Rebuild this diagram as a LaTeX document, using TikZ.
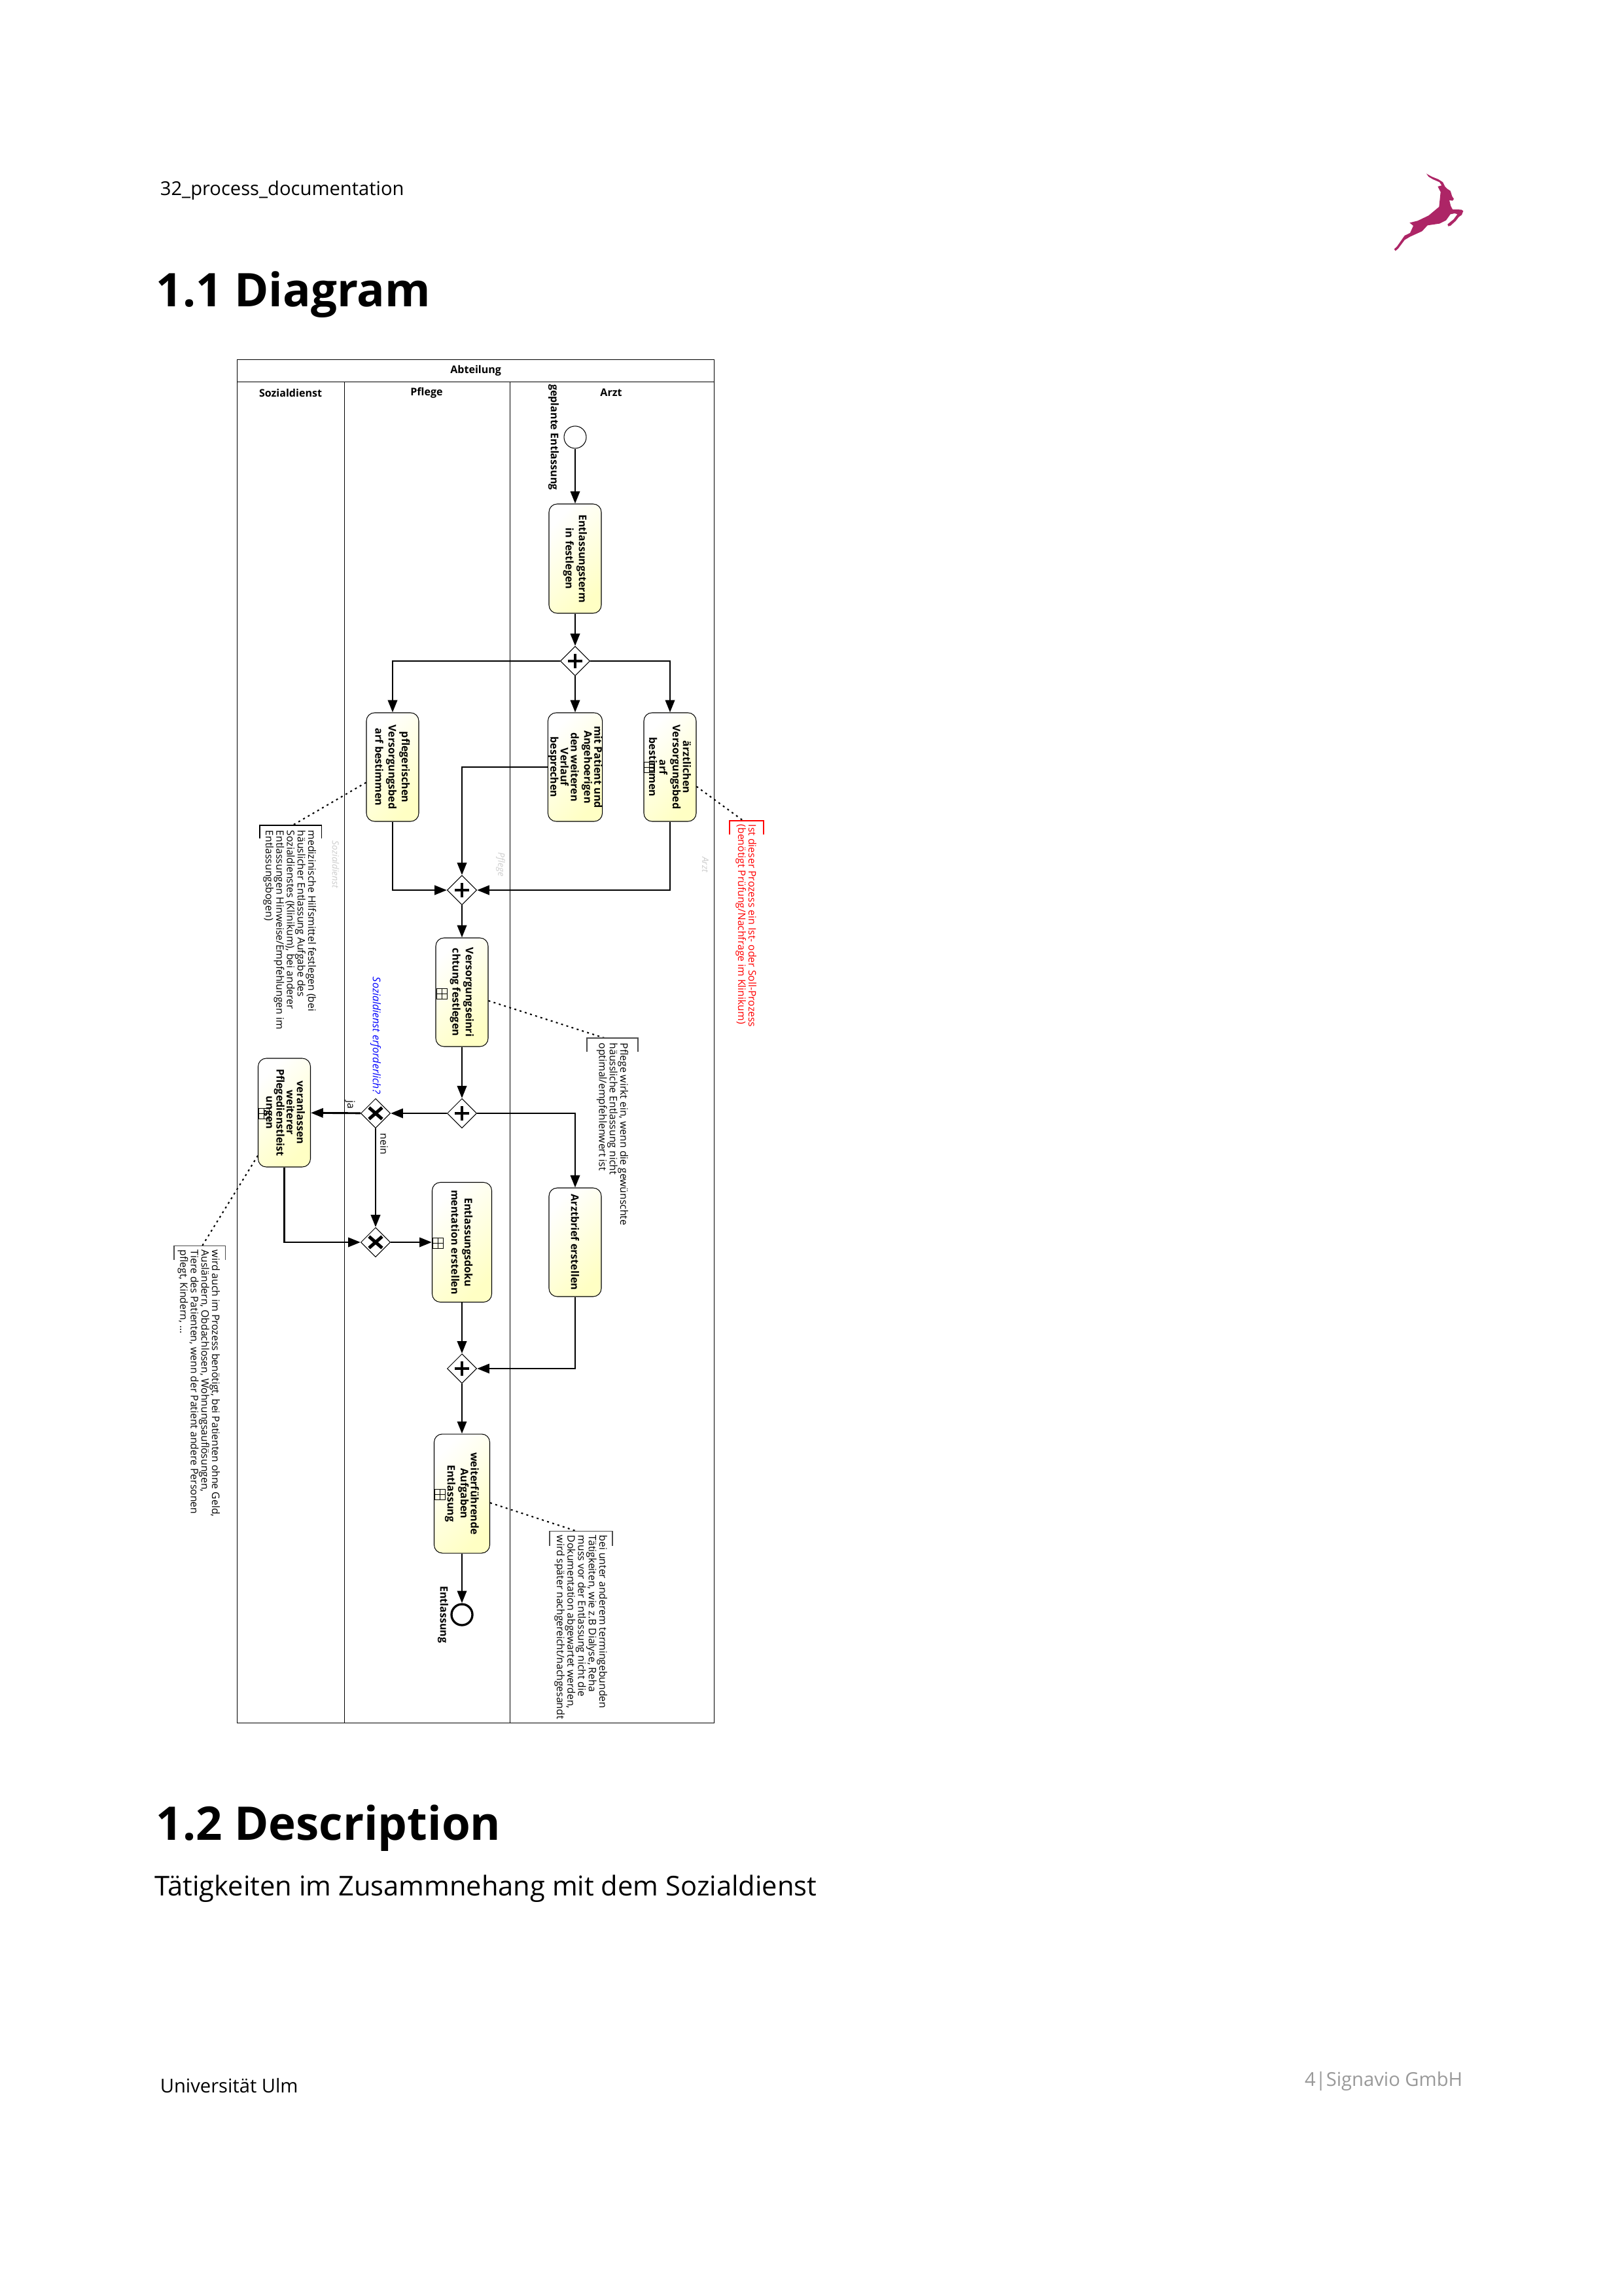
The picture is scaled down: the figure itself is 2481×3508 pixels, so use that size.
\documentclass[tikz,border=0pt]{standalone}
\usepackage{fontspec}
\setmainfont{Open Sans}
\usetikzlibrary{shapes.geometric, arrows.meta}
\def\px{0.24pt}
\definecolor{logocolor}{HTML}{AD2566}
\definecolor{taskyellow}{HTML}{FFFFC4}
\tikzstyle{lane} = [draw, line width=0.3pt, anchor=north west, minimum height=2049*\px]
\tikzstyle{lanetitle} = [font=\fontsize{3.85}{4}\selectfont\bfseries]
\tikzstyle{task} = [draw, rectangle, rounded corners=3pt, line width=0.25pt, align=center, rotate=-90, inner sep=0pt, minimum width=166*\px, minimum height=80*\px, font=\fontsize{3.85}{3.75}\selectfont\bfseries, top color=white, bottom color=taskyellow, shading angle=45]
\tikzstyle{gate} = [draw, diamond, fill=white, inner sep=0pt, line width=0.25pt, minimum width=45*\px, minimum height=45*\px]
\tikzstyle{plusgate} = [gate, path picture={\draw [line width=0.85pt] (path picture bounding box.center) +(-2.7pt,0) -- +(2.7pt,0) +(0,-2.7pt) -- +(0,2.7pt);}]
\tikzstyle{xorgate} = [gate, path picture={\draw [line width=1.2pt] (path picture bounding box.center) +(-2.4pt,-2.1pt) -- +(2.4pt,2.1pt) +(-2.4pt,2.1pt) -- +(2.4pt,-2.1pt);}]
\tikzstyle{subproc} = [draw, line width=0.2pt, minimum size=16*\px, inner sep=0pt, path picture={\draw [line width=0.15pt] (path picture bounding box.north) -- (path picture bounding box.south) (path picture bounding box.west) -- (path picture bounding box.east);}]
\tikzstyle{flow} = [-{Triangle[length=4.5pt,width=3.4pt]}, line width=0.7pt]
\tikzstyle{assoc} = [line width=0.5pt, dash pattern=on 0.7pt off 1.3pt]
\tikzstyle{note} = [rotate=-90, anchor=north west, inner sep=0pt, align=left, font=\fontsize{3.77}{3.9}\selectfont]
\tikzstyle{bracket} = [line width=0.25pt]
\tikzstyle{eventlabel} = [rotate=-90, inner sep=0pt, font=\fontsize{3.85}{4}\selectfont\bfseries]
\tikzstyle{ghost} = [rotate=-90, inner sep=0pt, text=black!20, font=\fontsize{3.3}{4}\selectfont\itshape]
\begin{document}
\begin{tikzpicture}[x=0.24pt, y=-0.24pt]
    \useasboundingbox (0,0) rectangle (2481,3508);

    % page
    \node (header) [anchor=base west, inner sep=0pt, font=\fontsize{7}{9}\selectfont] at (244,299) {32\_process\_documentation};
    \node (head1) [anchor=base west, inner sep=0pt, font=\fontsize{17}{20}\selectfont\bfseries] at (238,469) {1.1 Diagram};
    \node (head2) [anchor=base west, inner sep=0pt, font=\fontsize{17}{20}\selectfont\bfseries] at (238,2811) {1.2 Description};
    \node (desc) [anchor=base west, inner sep=0pt, font=\fontsize{10}{12}\selectfont] at (236,2896) {Tätigkeiten im Zusammnehang mit dem Sozialdienst};
    \node (uni) [anchor=base west, inner sep=0pt, font=\fontsize{7}{9}\selectfont] at (244,3197) {Universität Ulm};
    \node (page) [anchor=base east, inner sep=0pt, text=black!40, font=\fontsize{7}{9}\selectfont] at (2236,3187) {4|Signavio GmbH};
    \fill [logocolor, shift={(2110,250)}, x=0.08pt, y=-0.08pt] (210,46) -- (235,60) -- (265,72) -- (285,85) -- (295,105) -- (305,115) -- (320,125) -- (328,150) -- (336,162) -- (330,170) -- (315,168) -- (322,195) -- (330,210) -- (370,211) -- (379,217) -- (372,235) -- (358,245) -- (345,262) -- (320,285) -- (310,287) -- (307,278) -- (335,255) -- (352,232) -- (340,228) -- (320,232) -- (300,260) -- (270,275) -- (215,283) -- (190,310) -- (135,335) -- (110,350) -- (80,390) -- (68,400) -- (62,392) -- (75,380) -- (110,330) -- (135,318) -- (150,285) -- (133,271) -- (170,262) -- (220,238) -- (268,198) -- (275,130) -- (262,105) -- (280,100) -- (270,85) -- (240,72) -- (220,60) -- cycle;

    % pool and lanes
    \node (pool) [draw, line width=0.3pt, anchor=north west, inner sep=0pt, minimum width=729*\px, minimum height=34*\px, font=\fontsize{3.85}{4}\selectfont\bfseries] at (362,549) {Abteilung};
    \node (soz) [lane, minimum width=164*\px] at (362,583) {};
    \node (pfl) [lane, minimum width=253*\px] at (526,583) {};
    \node (arz) [lane, minimum width=312*\px] at (779,583) {};
    \node (sozt) [lanetitle] at (444,600) {Sozialdienst};
    \node (pflt) [lanetitle] at (652,600) {Pflege};
    \node (arzt) [lanetitle] at (934,600) {Arzt};
    \node (sozg) [ghost] at (513,1321) {Sozialdienst};
    \node (pflg) [ghost] at (765,1321) {Pflege};
    \node (arzg) [ghost] at (1078,1321) {Arzt};

    % events
    \node (start) [draw, circle, fill=white, inner sep=0pt, line width=0.25pt, minimum size=34*\px] at (879,668) {};
    \node (stop) [draw, circle, fill=white, inner sep=0pt, line width=0.8pt, minimum size=32*\px] at (706,2467) {};
    \node (startl) [eventlabel] at (846,668) {geplante Entlassung};
    \node (stopl) [eventlabel] at (677,2467) {Entlassung};

    % tasks
    \node (termin) [task, minimum width=167*\px] at (879,853.5) {Entlassungsterm\\in festlegen};
    \node (pflege) [task] at (600,1172) {pflegerischen\\Versorgungsbed\\arf bestimmen};
    \node (patient) [task] at (879,1172) {mit Patient und\\Angehoerigen\\den weiteren\\Verlauf\\besprechen};
    \node (aerzte) [task] at (1024,1172) {ärztlichen\\Versorgungsbed\\arf\\bestimmen};
    \node (einricht) [task] at (706,1516) {Versorgungseinri\\chtung festlegen};
    \node (weiter) [task] at (434.5,1700) {veranlassen\\weiterer\\Pflegedienstleist\\ungen};
    \node (doku) [task, minimum width=183*\px, minimum height=91*\px] at (706,1898) {Entlassungsdoku\\mentation erstellen};
    \node (brief) [task] at (879,1898) {Arztbrief erstellen};
    \node (aufgaben) [task, minimum width=182*\px, minimum height=85*\px] at (706,2282) {weiterführende\\Aufgaben\\Entlassung};
    \node (aerztem) [subproc] at (992,1172) {};
    \node (einrichtm) [subproc] at (675,1518) {};
    \node (weiterm) [subproc] at (403,1701) {};
    \node (dokum) [subproc] at (669,1899) {};
    \node (aufgabenm) [subproc] at (672,2283) {};

    % gateways
    \node (split) [plusgate] at (879,1010) {};
    \node (join) [plusgate] at (706,1360) {};
    \node (fork) [plusgate] at (706,1701) {};
    \node (merge) [plusgate] at (706,2091) {};
    \node (xora) [xorgate] at (574,1701) {};
    \node (xorb) [xorgate] at (574,1898) {};

    % flows
    \draw [flow] (start) -- (termin);
    \draw [flow] (termin) -- (split);
    \draw [flow] (split) -| (pflege);
    \draw [flow] (split) -- (patient);
    \draw [flow] (split) -| (aerzte);
    \draw [flow] (pflege) |- (join);
    \draw [flow] (patient) -| (join);
    \draw [flow] (aerzte) |- (join);
    \draw [flow] (join) -- (einricht);
    \draw [flow] (einricht) -- (fork);
    \draw [flow] (fork) -- (xora);
    \draw [flow] (fork) -| (brief);
    \draw [flow] (xora) -- (weiter);
    \draw [flow] (xora) -- (xorb);
    \draw [flow] (weiter) |- (xorb);
    \draw [flow] (xorb) -- (doku);
    \draw [flow] (doku) -- (merge);
    \draw [flow] (brief) |- (merge);
    \draw [flow] (merge) -- (aufgaben);
    \draw [flow] (aufgaben) -- (stop);

    % flow labels
    \node (frage) [eventlabel, text=blue, font=\fontsize{3.85}{4}\selectfont\itshape] at (574,1582) {Sozialdienst erforderlich?};
    \node (ja) [eventlabel, font=\fontsize{3.77}{4}\selectfont] at (535,1688) {ja};
    \node (nein) [eventlabel, font=\fontsize{3.77}{4}\selectfont] at (587,1748) {nein};

    % annotations
    \coordinate (notea) at (447,1261);
    \coordinate (noteb) at (1136,1254);
    \coordinate (notec) at (924,1586);
    \coordinate (noted) at (309,1903.5);
    \coordinate (notee) at (880,2339);
    \draw [assoc] (pflege) -- (notea);
    \draw [assoc] (aerzte) -- (noteb);
    \draw [assoc] (einricht) -- (notec);
    \draw [assoc] (weiter) -- (noted);
    \draw [assoc] (aufgaben) -- (notee);
    \draw [bracket] (397,1281) -- (397,1261) -- (491.5,1261) -- (491.5,1281);
    \draw [bracket, red] (1115,1275) -- (1115,1254) -- (1167,1254) -- (1167,1275);
    \draw [bracket, black!70] (897,1607) -- (897,1586) -- (975,1586) -- (975,1607);
    \draw [bracket, black!70] (266,1924.5) -- (266,1903.5) -- (344.5,1903.5) -- (344.5,1924.5);
    \draw [bracket, black!70] (840,2362) -- (840,2339) -- (936,2339) -- (936,2362);
    \node (notetexta) [note] at (484,1268) {medizinische Hilfsmittel festlegen (bei\\häuslicher Entlassung Aufgabe des\\Sozialdienstes (Klinikum), bei anderer\\Entlassungen Hinweise/Empfehlungen im\\Entlassungsbogen)};
    \node (notetextb) [note, text=red] at (1157,1259) {Ist dieser Prozess ein Ist- oder Soll-Prozess\\(benötigt Prüfung/Nachfrage im Klinikum)};
    \node (notetextc) [note] at (961,1593) {Pflege wirkt ein, wenn die gewünschte\\häussliche Entlassung nicht\\optimal/empfehlenwert ist};
    \node (notetextd) [note] at (337,1909) {wird auch im Prozess benötigt, bei Patienten ohne Geld,\\Ausländern, Obdachlosen, Wohnungsauflösungen,\\Tiere des Patienten, wenn der Patient andere Personen\\pflegt, Kindern, ...};
    \node (notetexte) [note] at (929,2345) {bei unter anderem termingebunden\\Tätigkeiten, wie z.B Dialyse, Reha\\muss vor der Entlassung nicht die\\Dokumentation abgewartet werden,\\wird später nachgereicht/nachgesandt};
\end{tikzpicture}
\end{document}
